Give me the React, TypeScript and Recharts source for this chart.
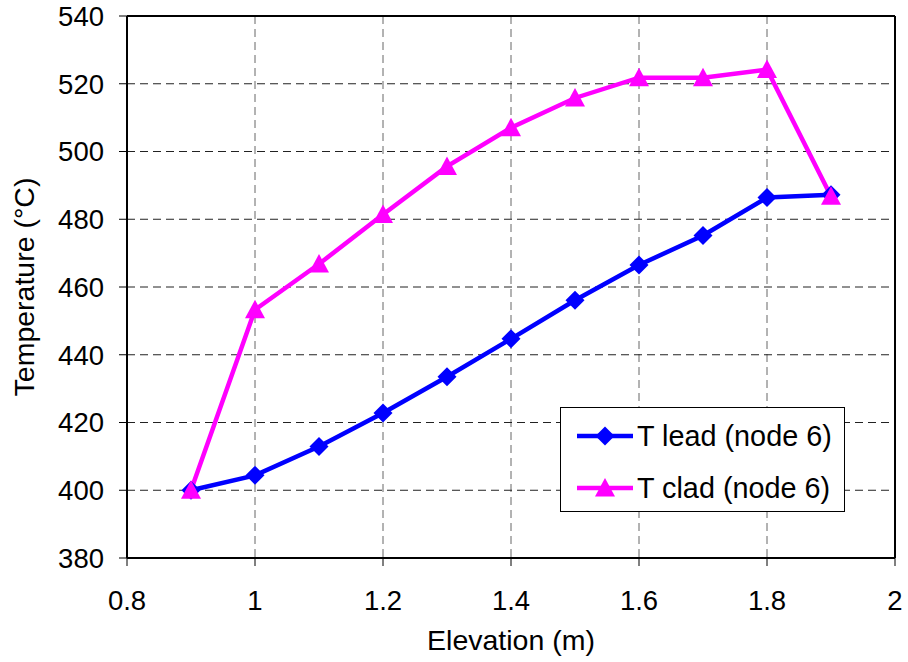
import { LineChart, Line, XAxis, YAxis, CartesianGrid, Legend, ReferenceLine, Label } from 'recharts';

// elevation (m) and node-6 temperatures (°C)
const elevation = [0.9, 1.0, 1.1, 1.2, 1.3, 1.4, 1.5, 1.6, 1.7, 1.8, 1.9];
const tLead = [400, 404.4, 412.9, 422.8, 433.5, 444.7, 456.1, 466.5, 475.2, 486.4, 487.2];
const tClad = [400, 453.3, 466.8, 481.4, 495.6, 507.0, 515.8, 521.8, 521.8, 524.2, 486.8];

const xTicks = [0.8, 1, 1.2, 1.4, 1.6, 1.8, 2];
const yTicks = [380, 400, 420, 440, 460, 480, 500, 520, 540];

const seriesNames = ['T lead (node 6)', 'T clad (node 6)'];

const data = elevation.map((x, i) => ({ x, lead: tLead[i], clad: tClad[i] }));

const FONT = "'Liberation Sans', Arial, sans-serif";
const BLUE = '#0000ff';
const MAGENTA = '#ff00ff';

const Diamond = ({ cx, cy, fill }: any) => {
  if (cx == null || cy == null) return null;
  return <polygon points={`${cx},${cy - 9.5} ${cx + 9.5},${cy} ${cx},${cy + 9.5} ${cx - 9.5},${cy}`} fill={fill} />;
};

const Triangle = ({ cx, cy, fill }: any) => {
  if (cx == null || cy == null) return null;
  return <polygon points={`${cx},${cy - 10} ${cx + 10},${cy + 8.5} ${cx - 10},${cy + 8.5}`} fill={fill} />;
};

// legend drawn like the Excel box
const LegendBox = () => {
  const rows = [
    { name: seriesNames[0], color: BLUE, Marker: Diamond },
    { name: seriesNames[1], color: MAGENTA, Marker: Triangle },
  ];
  return (
    <div
      style={{
        width: 283,
        height: 103,
        border: '1px solid #000',
        background: '#fff',
        fontFamily: FONT,
        fontSize: 28.8,
        color: '#000',
        position: 'relative',
      }}
    >
      {rows.map((r, i) => (
        <div key={r.name} style={{ position: 'absolute', left: 0, top: 28 + i * 52 - 18, height: 36, display: 'flex', alignItems: 'center' }}>
          <svg width={76} height={36} style={{ display: 'block' }}>
            <line x1={16} y1={18} x2={72} y2={18} stroke={r.color} strokeWidth={4.5} />
            <r.Marker cx={44} cy={18} fill={r.color} />
          </svg>
          <span style={{ whiteSpace: 'nowrap', lineHeight: '36px' }}>{r.name}</span>
        </div>
      ))}
    </div>
  );
};

export default function App() {
  return (
    <div style={{ position: 'absolute', left: 0, top: 0, background: '#fff' }}>
      <LineChart width={908} height={662} data={data} margin={{ top: 16, right: 13, left: 0, bottom: 0 }}>
        <CartesianGrid horizontal={false} verticalValues={xTicks} stroke="#666" strokeDasharray="8 5" />
        <CartesianGrid vertical={false} horizontalValues={yTicks} stroke="#222" strokeDasharray="8 5" />
        <XAxis
          dataKey="x"
          type="number"
          domain={[0.8, 2]}
          ticks={xTicks}
          height={104}
          tickSize={8}
          tickMargin={24}
          axisLine={{ stroke: '#000', strokeWidth: 2 }}
          tickLine={{ stroke: '#000' }}
          tick={{ fill: '#000', fontSize: 27.5, fontFamily: FONT }}
        >
          <Label value="Elevation (m)" position="insideBottom" offset={12} fill="#000" fontSize={28.5} fontFamily={FONT} />
        </XAxis>
        <YAxis
          type="number"
          domain={[380, 540]}
          ticks={yTicks}
          width={127}
          tickSize={8}
          tickMargin={15}
          axisLine={{ stroke: '#000', strokeWidth: 2 }}
          tickLine={{ stroke: '#000' }}
          tick={{ fill: '#000', fontSize: 27.5, fontFamily: FONT }}
        >
          <Label
            value="Temperature (°C)"
            angle={-90}
            position="insideLeft"
            offset={24}
            fill="#000"
            fontSize={28.5}
            fontFamily={FONT}
            style={{ textAnchor: 'middle' }}
          />
        </YAxis>
        <ReferenceLine y={540} stroke="#000" strokeWidth={2} />
        <ReferenceLine x={2} stroke="#000" strokeWidth={2} />
        <Legend
          layout="vertical"
          align="center"
          verticalAlign="middle"
          wrapperStyle={{ left: 560, top: 407, width: 285, height: 105 }}
          content={() => <LegendBox />}
        />
        <Line
          dataKey="lead"
          name={seriesNames[0]}
          stroke={BLUE}
          strokeWidth={4.5}
          dot={<Diamond fill={BLUE} />}
          activeDot={false}
          isAnimationActive={false}
        />
        <Line
          dataKey="clad"
          name={seriesNames[1]}
          stroke={MAGENTA}
          strokeWidth={4.5}
          dot={<Triangle fill={MAGENTA} />}
          activeDot={false}
          isAnimationActive={false}
        />
      </LineChart>
    </div>
  );
}
